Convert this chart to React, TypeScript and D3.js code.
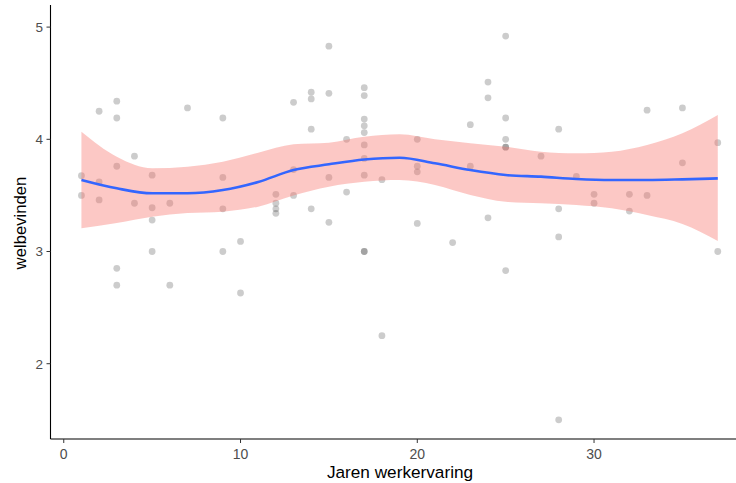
import React from "react";
import * as d3 from "d3";

// Scatter data: years of experience (x) and wellbeing (y)
const pointX = [
  1, 1, 2, 2, 2, 3, 3, 3, 3, 3, 4, 4, 5, 5, 5, 5, 6, 6, 7, 9, 9, 9, 9, 10, 10,
  12, 12, 12, 12, 13, 13, 13, 14, 14, 14, 14, 15, 15, 15, 15, 16, 16,
  17, 17, 17, 17, 17, 17, 17, 17, 17, 17, 18, 18, 20, 20, 20, 20, 22, 23, 23,
  24, 24, 24, 25, 25, 25, 25, 25, 25, 27, 28, 28, 28, 28, 29, 30, 30, 32, 32,
  33, 33, 35, 35, 37, 37,
];
const pointY = [
  3.675, 3.5, 4.25, 3.62, 3.46, 4.34, 4.19, 3.76, 2.85, 2.7, 3.85, 3.43, 3.68, 3.39, 3.28, 3.0, 3.43, 2.7, 4.28, 4.19, 3.66, 3.38, 3.0, 3.09, 2.63,
  3.51, 3.43, 3.38, 3.34, 4.33, 3.73, 3.5, 4.42, 4.36, 4.09, 3.38, 4.83, 4.41, 3.66, 3.26, 4.0, 3.53,
  4.46, 4.39, 4.18, 4.12, 4.06, 3.95, 3.83, 3.68, 3.0, 3.0, 3.64, 2.25, 4.0, 3.76, 3.71, 3.25, 3.08, 4.13, 3.76,
  4.51, 4.37, 3.3, 4.92, 4.19, 4.0, 3.93, 3.93, 2.83, 3.85, 4.09, 3.38, 3.13, 1.5, 3.67, 3.51, 3.43, 3.51, 3.36,
  4.26, 3.5, 4.28, 3.79, 3.97, 3.0,
];

// Smoothed (loess) fit and its confidence band
const fitX = [1, 3, 5, 7, 9, 11, 13, 15, 17, 19, 21, 23, 25, 27, 29, 31, 33, 35, 37];
const fitY = [3.638, 3.563, 3.519, 3.519, 3.548, 3.62, 3.726, 3.777, 3.82, 3.836, 3.786, 3.726, 3.682, 3.667, 3.646, 3.637, 3.637, 3.643, 3.652];
const fitUpper = [4.068, 3.845, 3.742, 3.756, 3.8, 3.88, 3.955, 3.97, 4.023, 4.044, 4.0, 3.964, 3.934, 3.89, 3.875, 3.89, 3.95, 4.053, 4.217];
const fitLower = [3.207, 3.254, 3.31, 3.343, 3.355, 3.4, 3.5, 3.578, 3.622, 3.637, 3.593, 3.504, 3.444, 3.43, 3.414, 3.385, 3.325, 3.245, 3.094];

const xTicks = [0, 10, 20, 30];
const yTicks = [2, 3, 4, 5];

const W = 736;
const H = 483;
const left = 50.5;
const top = 5;
const bottom = 439;

export default function App() {
  const x = d3.scaleLinear().domain([-0.75, 38.8]).range([left, 64 + 38.8 * 17.67]);
  const y = d3.scaleLinear().domain([1.329, 5.197]).range([bottom, top]);

  const band = d3
    .area<number>()
    .x((_, i) => x(fitX[i]))
    .y0((_, i) => y(fitLower[i]))
    .y1((_, i) => y(fitUpper[i]))
    .curve(d3.curveMonotoneX);
  const line = d3
    .line<number>()
    .x((_, i) => x(fitX[i]))
    .y((d) => y(d))
    .curve(d3.curveMonotoneX);

  const font = "'Liberation Sans', Arial, sans-serif";

  return (
    <svg
      width={W}
      height={H}
      style={{ position: "absolute", left: 0, top: 0, background: "#fff" }}
      fontFamily={font}
    >
      <g>
        {pointX.map((px, i) => (
          <circle key={i} cx={x(px)} cy={y(pointY[i])} r={3.4} fill="#000" fillOpacity={0.2} />
        ))}
      </g>
      <path d={band(fitY) || ""} fill="#F8766D" fillOpacity={0.4} />
      <path d={line(fitY) || ""} fill="none" stroke="#3366FF" strokeWidth={2.6} />

      {/* axes */}
      <line x1={left} x2={left} y1={top} y2={bottom} stroke="#000" strokeWidth={1.1} />
      <line x1={left} x2={W} y1={bottom} y2={bottom} stroke="#000" strokeWidth={1.1} />
      {yTicks.map((t) => (
        <g key={t}>
          <line x1={left - 4} x2={left} y1={y(t)} y2={y(t)} stroke="#333" strokeWidth={1} />
          <text x={left - 7.5} y={y(t)} dy="0.36em" textAnchor="end" fontSize={13.5} fill="#4d4d4d">
            {t}
          </text>
        </g>
      ))}
      {xTicks.map((t) => (
        <g key={t}>
          <line x1={x(t)} x2={x(t)} y1={bottom} y2={bottom + 4} stroke="#333" strokeWidth={1} />
          <text x={x(t)} y={bottom + 19.5} textAnchor="middle" fontSize={14} fill="#4d4d4d">
            {t}
          </text>
        </g>
      ))}
      <text x={400} y={478} textAnchor="middle" fontSize={17.2} fill="#000">
        Jaren werkervaring
      </text>
      <text
        transform={`translate(26, ${(top + bottom) / 2 + 1}) rotate(-90)`}
        textAnchor="middle"
        fontSize={16.7}
        fill="#000"
      >
        welbevinden
      </text>
    </svg>
  );
}
